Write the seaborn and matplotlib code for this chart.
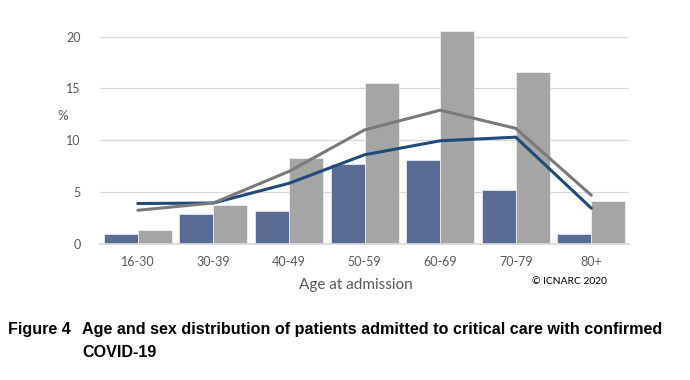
"""
Age and sex distribution of patients admitted to critical care (ICNARC figure 4).
Grouped bars per age band with two comparison lines on top.
"""

import matplotlib
matplotlib.use("Agg")
import matplotlib.pyplot as plt
import pandas as pd
import seaborn as sns

# ---------------------------------------------------------------------------
# Data
# ---------------------------------------------------------------------------

age_bands = ["16-30", "30-39", "40-49", "50-59", "60-69", "70-79", "80+"]

female_pct = [1.0, 2.9, 3.15, 7.7, 8.1, 5.25, 1.0]
male_pct = [1.35, 3.8, 8.25, 15.5, 20.5, 16.6, 4.1]

female_line = [3.9, 3.95, 5.85, 8.6, 9.95, 10.3, 3.45]
male_line = [3.25, 3.95, 7.0, 11.0, 12.9, 11.15, 4.7]

y_ticks = [0, 5, 10, 15, 20]

# ---------------------------------------------------------------------------
# Styling
# ---------------------------------------------------------------------------

sns.set_theme(style="white")
plt.rcParams["font.family"] = ["Lato", "DejaVu Sans"]

BAR_COLORS = {"Female": "#5A6B94", "Male": "#A5A5A5"}
LINE_COLORS = {"Female": "#1F4A7A", "Male": "#7A7A7A"}
TEXT_GREY = "#595959"

bars_df = pd.DataFrame({
    "age": age_bands * 2,
    "pct": female_pct + male_pct,
    "sex": ["Female"] * len(age_bands) + ["Male"] * len(age_bands),
})
lines_df = pd.DataFrame({
    "age": age_bands * 2,
    "pct": female_line + male_line,
    "sex": ["Female"] * len(age_bands) + ["Male"] * len(age_bands),
})

fig = plt.figure(figsize=(6.9, 3.8), dpi=100)
ax = fig.add_axes([0.145, 0.358, 0.7667, 0.573])

sns.barplot(
    data=bars_df, x="age", y="pct", hue="sex", order=age_bands,
    hue_order=["Female", "Male"], palette=BAR_COLORS, width=0.9,
    edgecolor="white", linewidth=0.4, saturation=1, legend=False, ax=ax,
)
sns.pointplot(
    data=lines_df, x="age", y="pct", hue="sex", order=age_bands,
    hue_order=["Female", "Male"], palette=LINE_COLORS, markers="",
    errorbar=None, linewidth=2.2, legend=False, ax=ax,
)

ax.set_ylim(0, 21)
ax.set_xlim(-0.5, len(age_bands) - 0.5)
ax.set_yticks(y_ticks)
ax.yaxis.grid(True, color="#D9D9D9", linewidth=0.9)
ax.set_axisbelow(True)
for side in ["top", "right", "left"]:
    ax.spines[side].set_visible(False)
ax.spines["bottom"].set_color("#D9D9D9")
ax.tick_params(axis="both", length=0, colors=TEXT_GREY, labelsize=9)
ax.tick_params(axis="x", pad=9)
ax.tick_params(axis="y", pad=14)

ax.set_xlabel("Age at admission", color=TEXT_GREY, fontsize=11)
ax.xaxis.set_label_coords(0.483, -0.155)
ax.set_ylabel("%", color=TEXT_GREY, fontsize=9.5, rotation=0, labelpad=12)
ax.yaxis.set_label_coords(-0.07, 0.56)

fig.text(0.826, 0.258, "\u00a9 ICNARC 2020", color="#000000", fontsize=7.4,
         ha="center", va="center")

# Caption below the chart
cap_font = dict(family=["Liberation Sans", "DejaVu Sans"], fontweight="bold",
                fontsize=11.6, color="#000000", va="center")
fig.text(0.012, 0.132, "Figure 4", **cap_font)
fig.text(0.119, 0.132,
         "Age and sex distribution of patients admitted to critical care with confirmed",
         **cap_font)
fig.text(0.119, 0.073, "COVID-19", **cap_font)

fig.savefig("out.png", dpi=100)
